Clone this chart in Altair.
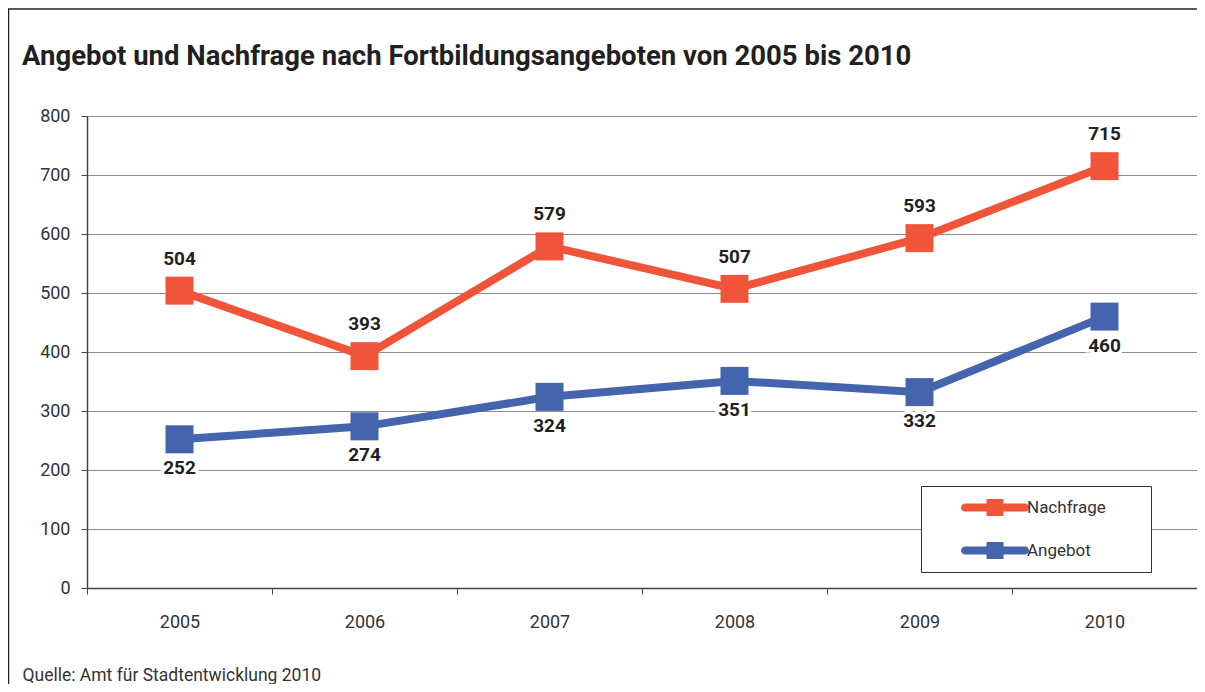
import altair as alt
import pandas as pd

years = [2005, 2006, 2007, 2008, 2009, 2010]
nachfrage = [504, 393, 579, 507, 593, 715]
angebot = [252, 274, 324, 351, 332, 460]
series = ["Nachfrage", "Angebot"]
colors = ["#F0553A", "#4464AD"]
y_ticks = [0, 100, 200, 300, 400, 500, 600, 700, 800]
x_edges = [2004.5, 2005.5, 2006.5, 2007.5, 2008.5, 2009.5, 2010.5]

title_text = "Angebot und Nachfrage nach Fortbildungsangeboten von 2005 bis 2010"
source_text = "Quelle: Amt für Stadtentwicklung 2010"

rows = []
for yr, n, a in zip(years, nachfrage, angebot):
    rows.append({"Jahr": yr, "Reihe": "Nachfrage", "Wert": n})
    rows.append({"Jahr": yr, "Reihe": "Angebot", "Wert": a})
df = pd.DataFrame(rows)

FONT = "Roboto"
DARK = "#231f20"

x_enc = alt.X(
    "Jahr:Q",
    scale=alt.Scale(domain=[2004.5, 2010.5], nice=False, zero=False),
    axis=alt.Axis(
        values=x_edges,
        labelExpr="datum.value < 2010 ? toString(datum.value + 0.5) : ''",
        labelOffset=92.5,
        labelFlush=False,
        labelOverlap=False,
        grid=False,
        tickSize=6,
        tickColor="#444",
        domainColor="#444",
        domainWidth=1.5,
        labelFont=FONT,
        labelFontSize=18,
        labelColor="#333",
        labelPadding=19,
        title=source_text,
        titleX=-65,
        titleY=87,
        titleAlign="left",
        titleAnchor="start",
        titleBaseline="middle",
        titleFont=FONT,
        titleFontSize=17.5,
        titleFontWeight="normal",
        titleColor="#333",
    ),
)
y_enc = alt.Y(
    "Wert:Q",
    scale=alt.Scale(domain=[0, 800], nice=False),
    axis=alt.Axis(
        values=y_ticks,
        grid=True,
        gridColor="#8c8c8c",
        gridWidth=1,
        tickSize=6,
        tickColor="#444",
        domainColor="#444",
        domainWidth=1.5,
        labelFont=FONT,
        labelFontSize=18,
        labelColor="#333",
        labelPadding=11,
        title=None,
    ),
)

# legend glyph: rounded line with a square in its middle; the trailing
# move-to widens the legend box to the right
legend_path = (
    "M2.65,-0.47 H9.71 A0.47,0.47 0 0 1 9.71,0.47 H2.65 A0.47,0.47 0 0 1 2.65,-0.47 Z "
    "M5.18,-1 H7.18 V1 H5.18 Z M23,0 L23,0"
)

legend = alt.Legend(
    title=None,
    orient="none",
    legendX=834,
    legendY=370,
    strokeColor="#333",
    fillColor="white",
    padding=13,
    symbolType=legend_path,
    symbolSize=289,
    symbolStrokeWidth=0,
    symbolOpacity=1,
    labelFont=FONT,
    labelFontSize=17,
    labelColor="#333",
    labelOffset=76,
    rowPadding=25,
)

color_enc = alt.Color("Reihe:N", scale=alt.Scale(domain=series, range=colors),
                      sort=series, legend=legend)

base = alt.Chart(df)

frame_data = alt.Data(values=[{}])
frame_top = alt.Chart(frame_data).mark_rule(
    stroke="#222", strokeWidth=1.5, clip=False
).encode(x=alt.value(-79), x2=alt.value(1110), y=alt.value(-107))
frame_left = alt.Chart(frame_data).mark_rule(
    stroke="#222", strokeWidth=1.5, clip=False
).encode(x=alt.value(-78.5), y=alt.value(-107), y2=alt.value(584))

lines = base.mark_line(strokeWidth=8).encode(
    x=x_enc, y=y_enc, color=color_enc,
)

points = base.mark_point(shape="square", filled=True, size=784, opacity=1).encode(
    x=x_enc, y=y_enc, color=color_enc,
)

def labels(name, dy):
    sub = base.transform_filter(alt.datum.Reihe == name)
    halo = sub.mark_text(
        dy=dy, font=FONT, fontSize=19, fontWeight="bold",
        stroke="white", strokeWidth=7, color="white",
    ).encode(x=x_enc, y=y_enc, text="Wert:Q")
    txt = sub.mark_text(
        dy=dy, font=FONT, fontSize=19, fontWeight="bold", color=DARK,
    ).encode(x=x_enc, y=y_enc, text="Wert:Q")
    return [halo, txt]

layers = [frame_top, frame_left] + labels("Nachfrage", -32) + labels("Angebot", 29) + [lines, points]

chart = alt.layer(*layers).properties(
    width=1110,
    height=472,
    autosize=alt.AutoSizeParams(type="none"),
    padding={"left": 79, "top": 108, "right": 0, "bottom": 96},
    title=alt.TitleParams(
        text=title_text,
        anchor="start",
        frame="group",
        font=FONT,
        fontSize=27.5,
        fontWeight="bold",
        color=DARK,
        dx=-65,
        offset=0,
        dy=62,
    ),
).configure_view(
    stroke="#8c8c8c", strokeWidth=2.5
).configure(background="white")

chart.save("out.html", embed_options={"renderer": "svg", "actions": False})
